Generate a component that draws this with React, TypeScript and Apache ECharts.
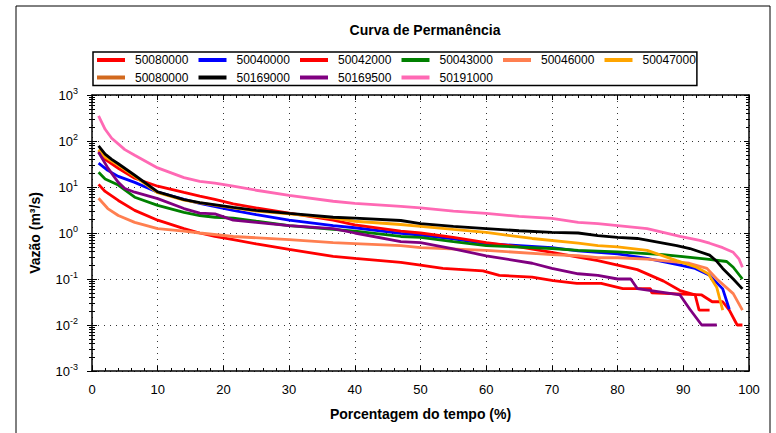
import React, { useEffect, useRef } from "react";
import * as echarts from "echarts";

// ---- Data (percent of time, discharge m3/s) ----
const s50080000a: [number, number][] = [
  [1, 11.4], [2, 8], [4, 5.1], [6.5, 3.1], [10, 1.9], [14, 1.25], [16.4, 1.0], [18.7, 0.84], [21.5, 0.72],
  [25, 0.58], [30, 0.44], [36.7, 0.31], [40, 0.28], [47, 0.23], [50, 0.2], [53.4, 0.17], [59.5, 0.15],
  [62, 0.12], [67, 0.11], [70.2, 0.092], [73.8, 0.08], [77.5, 0.08], [80.8, 0.062], [85, 0.062],
  [85.2, 0.05], [92.8, 0.045], [94.4, 0.032], [96, 0.032], [97, 0.021], [98.2, 0.01], [99, 0.01],
];
const s50040000: [number, number][] = [
  [1, 33], [2.4, 23], [4, 17], [6.5, 12.6], [10, 7.7], [14, 5.4], [16.4, 4.4], [21.5, 3.1], [25, 2.5],
  [30, 1.9], [36.7, 1.45], [40, 1.3], [47, 0.98], [50, 0.9], [55, 0.75], [60, 0.59], [70, 0.48],
  [74, 0.41], [77, 0.38], [80, 0.35], [84.5, 0.28], [89.5, 0.2], [91.8, 0.17], [94, 0.12],
  [96, 0.061], [97, 0.022],
];
const s50042000: [number, number][] = [
  [1, 60], [2, 40], [4, 25.6], [6.5, 15.5], [10, 10.4], [14, 7.6], [16.4, 6.3], [18.7, 5.4], [21.5, 4.3],
  [25, 3.5], [30, 2.7], [36.7, 1.9], [40, 1.5], [47, 1.1], [50, 1.0], [55, 0.8], [60, 0.62], [65, 0.5],
  [70, 0.38], [74, 0.3], [77, 0.25], [80, 0.2], [83, 0.16], [85, 0.12], [87, 0.09], [89.5, 0.056],
  [91.8, 0.045], [92.4, 0.021], [94, 0.021],
];
const s50043000: [number, number][] = [
  [1, 21], [2, 15], [4, 11], [6.5, 6], [10, 4], [14, 2.8], [16.4, 2.4], [18.7, 2.2], [21.5, 2.1],
  [25, 1.8], [30, 1.45], [36.7, 1.2], [40, 1.1], [47, 0.84], [50, 0.8], [55, 0.65], [60, 0.53],
  [70, 0.46], [74, 0.42], [80, 0.39], [86.9, 0.34], [93.6, 0.27], [96.6, 0.24], [97.6, 0.18],
  [99, 0.1],
];
const s50046000: [number, number][] = [
  [1, 5.7], [2.4, 3.4], [4, 2.4], [6.5, 1.7], [10, 1.25], [14, 1.1], [16.4, 1.0], [21.5, 0.84],
  [30, 0.72], [36.7, 0.62], [40, 0.59], [47, 0.53], [50, 0.48], [60, 0.42], [70, 0.34], [74, 0.32],
  [77, 0.29], [80, 0.29], [84.5, 0.27], [90.9, 0.22], [93.6, 0.17], [95.1, 0.1], [97.6, 0.048],
  [99, 0.021],
];
const s50047000: [number, number][] = [
  [1, 65], [2, 45], [4, 30], [6.5, 17], [10, 7.5], [14, 5.2], [16.4, 4.5], [21.5, 3.5], [25, 3.0],
  [30, 2.6], [36.7, 2.1], [40, 1.8], [47, 1.53], [50, 1.4], [55, 1.2], [60, 1.03], [67, 0.76],
  [74, 0.6], [77, 0.53], [80, 0.5], [84.5, 0.42], [89, 0.25], [92, 0.18], [93.8, 0.13],
  [95.1, 0.065], [96, 0.021],
];
const s50080000b: [number, number][] = [];
const s50169000: [number, number][] = [
  [1, 78], [2, 52], [3, 40], [4, 32], [6.5, 18], [10, 7.8], [14, 5.3], [16.4, 4.6], [21.5, 3.6],
  [25, 3.1], [30, 2.66], [36.7, 2.2], [40, 2.1], [47, 1.87], [50, 1.6], [55, 1.4], [60, 1.25],
  [65, 1.12], [70, 1.03], [74, 1.0], [77, 0.88], [80, 0.8], [83, 0.76], [89, 0.53], [91, 0.46],
  [94, 0.33], [95, 0.25], [96, 0.17], [97.6, 0.1], [99, 0.061],
];
const s50169500: [number, number][] = [
  [1, 57], [2.4, 26], [4, 12.6], [5, 9.3], [6.5, 7.7], [10, 5.6], [14, 3.4], [16.4, 2.7], [18.7, 2.6],
  [21.5, 1.9], [25, 1.7], [30, 1.45], [36.7, 1.25], [40, 1.0], [47, 0.65], [50, 0.62], [55, 0.45],
  [60, 0.32], [67, 0.22], [70, 0.17], [74, 0.13], [77, 0.12], [80, 0.1], [82, 0.1], [83, 0.062],
  [89.5, 0.045], [91, 0.022], [92.8, 0.01], [95.1, 0.01],
];
const s50191000: [number, number][] = [
  [1, 350], [2, 180], [3, 115], [5, 65], [6.5, 49], [10, 26], [14, 16], [16.4, 13.3], [18.7, 12.2],
  [21.5, 10.4], [25, 8.5], [30, 6.6], [36.7, 4.9], [40, 4.4], [47, 3.8], [50, 3.5], [55, 3.0],
  [60, 2.66], [65, 2.3], [70, 2.07], [74, 1.7], [77, 1.6], [80, 1.45], [84.5, 1.25], [89.5, 0.84],
  [92.5, 0.69], [94, 0.6], [96, 0.48], [97.6, 0.38], [98.5, 0.27], [99, 0.18],
];

const seriesIds = ["s1", "s2", "s3", "s4", "s5", "s6", "s7", "s8", "s9", "s10"];
const seriesLabels = [
  "50080000", "50040000", "50042000", "50043000", "50046000",
  "50047000", "50080000", "50169000", "50169500", "50191000",
];
const seriesColors = [
  "#FF0000", "#0000FF", "#FF0000", "#008000", "#FF7F50",
  "#FFA500", "#D2691E", "#000000", "#800080", "#FF69B4",
];
const seriesData = [
  s50080000a, s50040000, s50042000, s50043000, s50046000,
  s50047000, s50080000b, s50169000, s50169500, s50191000,
];

const yDecades = [-3, -2, -1, 0, 1, 2, 3];
const yMantissas = [2, 3, 4, 5, 6, 7, 8, 9];

const FONT = "'Liberation Sans', Arial, sans-serif";

export default function App() {
  const ref = useRef<HTMLDivElement>(null);
  useEffect(() => {
    if (!ref.current) return;
    const chart = echarts.init(ref.current, null, { renderer: "svg" });

    const tickData: number[][] = [];
    yDecades.forEach((d) => {
      tickData.push([0, Math.pow(10, d), 1]);
      if (d < 3) yMantissas.forEach((m) => tickData.push([0, m * Math.pow(10, d), 0]));
    });

    const labelMap: Record<string, string> = {};
    seriesIds.forEach((id, i) => (labelMap[id] = seriesLabels[i]));

    const lineSeries = seriesIds.map((id, i) => ({
      name: id,
      type: "line",
      data: seriesData[i],
      showSymbol: false,
      symbol: "none",
      lineStyle: { color: seriesColors[i], width: 2.8 },
      itemStyle: { color: seriesColors[i] },
      xAxisIndex: 0,
      yAxisIndex: 0,
      z: 3,
    }));

    const legendText = { fontFamily: FONT, fontSize: 12, color: "#000", lineHeight: 14 };

    const option: any = {
      animation: false,
      backgroundColor: "#fff",
      textStyle: { fontFamily: FONT },
      title: {
        text: "Curva de Permanência",
        left: 420,
        top: 18,
        textAlign: "center",
        textStyle: { fontFamily: FONT, fontWeight: "bold", fontSize: 14, color: "#000" },
      },
      legend: {
        data: seriesIds,
        formatter: (n: string) => (n === "s6" ? "{c|" : "{a|") + labelMap[n] + "}",
        left: 93,
        top: 52,
        width: 612,
        orient: "horizontal",
        icon: "rect",
        itemWidth: 28,
        itemHeight: 4,
        itemGap: 3.5,
        padding: [1, 1, 1, 4],
        borderColor: "#000",
        borderWidth: 1.5,
        selectedMode: false,
        textStyle: {
          ...legendText,
          rich: {
            a: { ...legendText, width: 60, padding: [0, 0, 0, 5] },
            c: { ...legendText, width: 53, padding: [0, 0, 0, 5] },
          },
        },
      },
      grid: { left: 92, right: 27, top: 95, bottom: 62 },
      xAxis: [
        {
          type: "value",
          min: 0,
          max: 100,
          interval: 10,
          position: "bottom",
          name: "Porcentagem do tempo (%)",
          nameLocation: "middle",
          nameGap: 36,
          nameTextStyle: { fontFamily: FONT, fontWeight: "bold", fontSize: 14, color: "#000" },
          axisLine: { show: true, onZero: false, lineStyle: { color: "#000", width: 1.5 } },
          axisTick: { show: true, inside: true, length: 5, lineStyle: { color: "#000" } },
          minorTick: { show: true, splitNumber: 5, length: 3, lineStyle: { color: "#000" } },
          axisLabel: { fontFamily: FONT, fontSize: 13, color: "#000", margin: 12 },
          splitLine: { show: true, lineStyle: { color: "#333", type: [1, 5], width: 1 } },
        },
        {
          type: "value",
          min: 0,
          max: 100,
          interval: 10,
          position: "top",
          axisLine: { show: true, onZero: false, lineStyle: { color: "#000", width: 1.5 } },
          axisTick: { show: true, inside: true, length: 5, lineStyle: { color: "#000" } },
          minorTick: { show: true, splitNumber: 5, length: 3, lineStyle: { color: "#000" } },
          axisLabel: { show: false },
          splitLine: { show: false },
        },
      ],
      yAxis: [
        {
          type: "log",
          logBase: 10,
          min: 0.001,
          max: 1000,
          splitNumber: 6,
          position: "left",
          name: "Vazão (m³/s)",
          nameLocation: "middle",
          nameGap: 50,
          nameTextStyle: { fontFamily: FONT, fontWeight: "bold", fontSize: 14, color: "#000" },
          axisLine: { show: true, onZero: false, lineStyle: { color: "#000", width: 1.5 } },
          axisTick: { show: false },
          axisLabel: {
            margin: 14,
            showMinLabel: true,
            showMaxLabel: true,
            formatter: (v: number) => "{b|10}{s|" + Math.round(Math.log10(v)) + "}",
            rich: {
              b: { fontFamily: FONT, fontSize: 13, color: "#000" },
              s: { fontFamily: FONT, fontSize: 9, color: "#000", padding: [0, 0, 9, 0] },
            },
          },
          splitLine: { show: true, lineStyle: { color: "#333", type: [1, 5], width: 1 } },
        },
        {
          type: "log",
          logBase: 10,
          min: 0.001,
          max: 1000,
          splitNumber: 6,
          position: "right",
          axisLine: { show: true, onZero: false, lineStyle: { color: "#000", width: 1.5 } },
          axisTick: { show: false },
          axisLabel: { show: false },
          splitLine: { show: false },
        },
      ],
      graphic: [
        {
          type: "rect",
          shape: { x: 16, y: 6, width: 754, height: 440 },
          style: { fill: "none", stroke: "#000", lineWidth: 1 },
          silent: true,
          z: 100,
        },
      ],
      series: [
        ...lineSeries,
        {
          type: "custom",
          name: "ticks",
          coordinateSystem: "cartesian2d",
          xAxisIndex: 0,
          yAxisIndex: 0,
          silent: true,
          clip: false,
          z: 10,
          encode: { x: 0, y: 1 },
          data: tickData,
          renderItem: (params: any, api: any) => {
            const v = api.value(1);
            const major = api.value(2) === 1;
            const p = api.coord([0, v]);
            const cs = params.coordSys;
            const L = major ? 5 : 3;
            const y = Math.round(p[1]) + 0.5;
            return {
              type: "group",
              children: [
                {
                  type: "line",
                  shape: { x1: cs.x - L, y1: y, x2: cs.x + L, y2: y },
                  style: { stroke: "#000", lineWidth: 1 },
                },
                {
                  type: "line",
                  shape: { x1: cs.x + cs.width - L, y1: y, x2: cs.x + cs.width, y2: y },
                  style: { stroke: "#000", lineWidth: 1 },
                },
              ],
            };
          },
        },
      ],
    };
    chart.setOption(option);
    return () => chart.dispose();
  }, []);
  return (
    <div
      ref={ref}
      style={{ position: "fixed", left: 0, top: 0, width: 776, height: 433, background: "#fff" }}
    />
  );
}
